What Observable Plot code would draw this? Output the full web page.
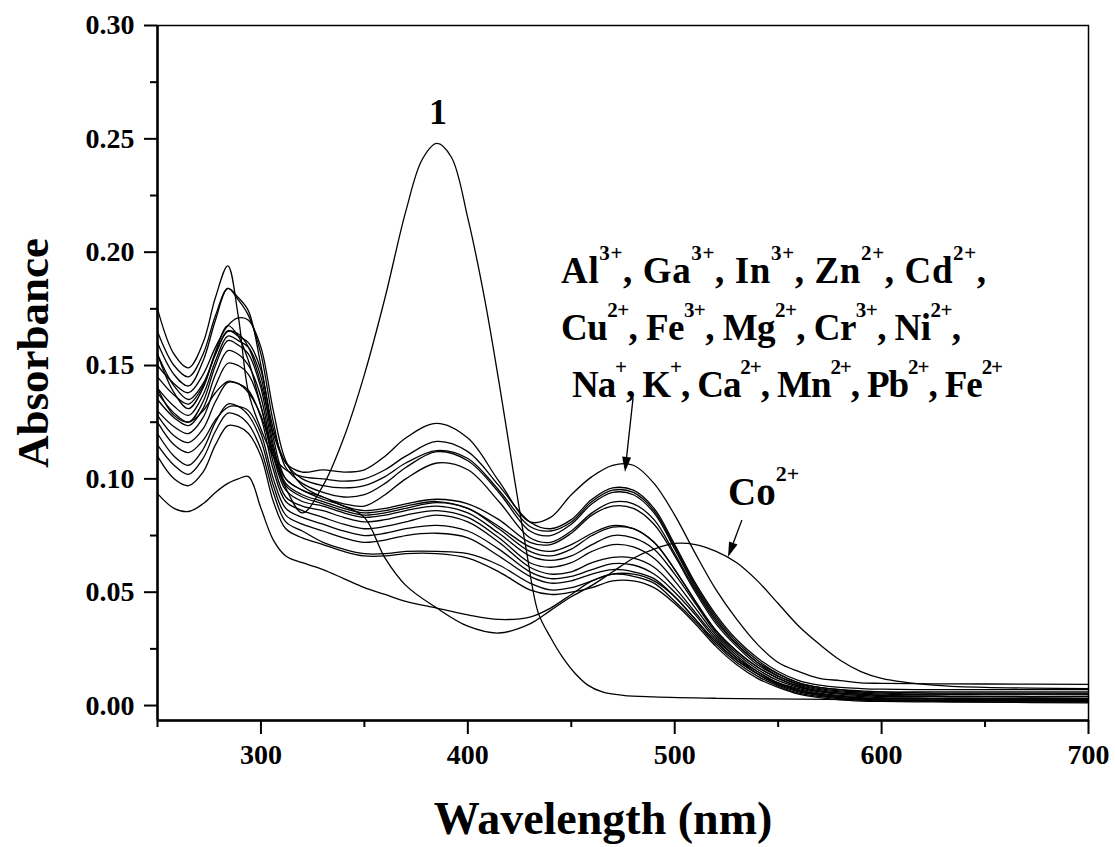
<!DOCTYPE html>
<html>
<head>
<meta charset="utf-8">
<script src="https://cdn.jsdelivr.net/npm/d3@7"></script>
<script src="https://cdn.jsdelivr.net/npm/@observablehq/plot@0.6"></script>
<style>
  body { margin: 0; background: #fff; }
  #chart svg { display: block; }
</style>
</head>
<body>
<div id="chart"></div>
<script>
// ---------- DATA ----------
const wavelengths = [250,258,265,272,278,284,289,294,300,306,312,320,330,340,350,360,370,385,400,415,430,440,450,460,470,480,490,500,510,520,530,540,550,560,570,580,590,600,625,650,700];

const curveA = [.155,.141,.135,.142,.155,.165,.164,.158,.142,.120,.107,.103,.104,.103,.104,.110,.118,.1245,.118,.099,.081,.083,.093,.101,.106,.106,.098,.084,.067,.051,.038,.027,.019,.015,.012,.011,.010,.0098,.0096,.0095,.0093];
const curveB = [.175,.155,.149,.160,.180,.194,.172,.138,.122,.110,.104,.101,.100,.099,.100,.104,.110,.1165,.112,.097,.081,.078,.082,.091,.096,.095,.087,.071,.054,.040,.029,.021,.015,.011,.009,.008,.0075,.0072,.007,.007,.007];
const curveC = [.165,.150,.145,.155,.172,.184,.180,.174,.150,.122,.107,.100,.097,.096,.097,.101,.107,.1125,.109,.095,.079,.077,.081,.090,.095,.094,.086,.070,.053,.039,.028,.020,.014,.010,.008,.007,.0065,.006,.006,.006,.006];
const curveD = [.160,.146,.141,.152,.170,.184,.179,.172,.155,.125,.105,.098,.094,.092,.093,.098,.105,.112,.108,.094,.077,.075,.080,.089,.094,.093,.085,.069,.052,.038,.027,.019,.014,.010,.008,.007,.006,.006,.0055,.0055,.0055];
const curveE = [.150,.142,.138,.146,.158,.1676,.171,.170,.158,.130,.108,.097,.092,.089,.088,.093,.100,.107,.104,.090,.074,.072,.077,.085,.0897,.089,.082,.067,.051,.037,.027,.019,.013,.0095,.0075,.0065,.006,.0055,.005,.005,.005];
const curveF = [.145,.137,.133,.141,.155,.1654,.163,.160,.148,.118,.100,.095,.092,.088,.086,.087,.089,.091,.089,.082,.072,.071,.076,.084,.088,.087,.080,.066,.050,.036,.026,.018,.013,.009,.007,.006,.0055,.005,.005,.005,.005];
const curveG = [.140,.132,.128,.137,.152,.163,.161,.158,.145,.115,.098,.093,.090,.087,.085,.086,.088,.090,.087,.079,.070,.068,.071,.076,.0794,.078,.072,.060,.046,.033,.024,.017,.012,.0085,.0065,.0055,.005,.0045,.0042,.004,.004];
const curveH = [.138,.129,.125,.134,.150,.161,.159,.155,.140,.113,.097,.092,.089,.086,.084,.085,.087,.0895,.087,.078,.068,.066,.069,.075,.0787,.078,.072,.060,.046,.033,.024,.017,.012,.0085,.0065,.0055,.005,.0045,.004,.004,.004];
const curveI = [.135,.127,.1235,.131,.146,.1566,.155,.150,.136,.110,.095,.090,.088,.085,.083,.084,.086,.088,.085,.076,.066,.064,.066,.071,.075,.074,.069,.058,.045,.032,.023,.016,.011,.008,.006,.005,.0045,.004,.004,.0038,.0038];
const curveJ = [.130,.123,.120,.127,.141,.151,.150,.146,.132,.107,.092,.088,.086,.083,.081,.082,.084,.086,.083,.074,.063,.061,.063,.068,.071,.070,.065,.055,.043,.031,.022,.015,.010,.0075,.0055,.0045,.004,.0035,.0033,.0032,.003];
const curveK = [.128,.119,.116,.122,.134,.1426,.142,.139,.127,.104,.090,.086,.083,.080,.078,.079,.081,.084,.081,.072,.061,.058,.059,.063,.0654,.065,.061,.052,.041,.030,.021,.015,.010,.007,.005,.004,.0035,.0032,.003,.003,.003];
const curveL = [.125,.115,.1116,.117,.126,.1316,.132,.130,.120,.100,.087,.083,.080,.077,.075,.076,.078,.0795,.077,.069,.059,.056,.057,.060,.0626,.062,.058,.050,.040,.029,.021,.014,.0095,.0065,.005,.004,.0033,.003,.0028,.0027,.0027];
const curveM = [.120,.110,.106,.113,.125,.133,.132,.128,.117,.097,.084,.080,.077,.074,.072,.073,.075,.076,.074,.066,.057,.054,.055,.058,.060,.059,.056,.048,.038,.028,.020,.014,.009,.006,.0045,.0035,.003,.0025,.0023,.0022,.0022];
const curveN = [.115,.106,.102,.109,.121,.129,.128,.124,.113,.094,.081,.077,.072,.069,.067,.067,.068,.068,.067,.062,.054,.051,.052,.055,.058,.057,.054,.046,.037,.027,.019,.013,.0085,.0055,.004,.003,.0025,.002,.002,.002,.002];
const curveO = [.110,.100,.097,.103,.115,.1235,.123,.120,.110,.090,.078,.074,.071,.068,.066,.066,.067,.067,.065,.059,.051,.049,.050,.052,.055,.055,.052,.045,.036,.026,.018,.012,.008,.005,.0035,.0025,.002,.0018,.0016,.0015,.0015];
const curveP = [.0935,.087,.0856,.089,.094,.098,.100,.101,.087,.073,.066,.063,.060,.056,.052,.049,.046,.043,.040,.038,.039,.043,.049,.055,.058,.058,.055,.048,.038,.028,.020,.014,.0095,.0065,.0045,.0035,.003,.0025,.002,.0015,.0012];
const curveCo = [.155,.138,.131,.140,.156,.1676,.163,.152,.132,.112,.100,.095,.091,.088,.083,.065,.053,.043,.035,.032,.036,.042,.048,.053,.059,.065,.069,.0715,.071,.068,.063,.055,.045,.035,.027,.020,.015,.012,.009,.008,.0075];

const ligandWavelengths = [250,258,265,272,278,284,289,294,300,306,312,320,330,340,350,360,370,378,385,392,400,408,415,422,428,434,440,446,452,458,465,475,490,520,560,600,650,700];
const ligandValues = [.140,.128,.125,.130,.138,.143,.142,.138,.128,.110,.096,.085,.097,.118,.146,.180,.218,.241,.248,.242,.215,.180,.143,.103,.070,.041,.030,.021,.014,.009,.006,.0045,.0038,.0032,.0028,.0025,.0022,.0018];

const metalCurves = {A: curveA, B: curveB, C: curveC, D: curveD, E: curveE, F: curveF, G: curveG, H: curveH,
  I: curveI, J: curveJ, K: curveK, L: curveL, M: curveM, N: curveN, O: curveO, P: curveP, Co: curveCo};

const xMajorTicks = [300, 400, 500, 600, 700];
const xMinorTicks = [250, 350, 450, 550, 650];
const yMajorTicks = [0, 0.05, 0.10, 0.15, 0.20, 0.25, 0.30];
const yMinorTicks = [0.025, 0.075, 0.125, 0.175, 0.225, 0.275];

const xTitle = "Wavelength (nm)";
const yTitle = "Absorbance";
const ligandLabel = "1";
const ionLabelRows = [
  [["Al","3+"],["Ga","3+"],["In","3+"],["Zn","2+"],["Cd","2+"]],
  [["Cu","2+"],["Fe","3+"],["Mg","2+"],["Cr","3+"],["Ni","2+"]],
  [["Na","+"],["K","+"],["Ca","2+"],["Mn","2+"],["Pb","2+"],["Fe","2+"]]
];
const ionRowEnd = [",", ",", ""];
const coLabel = [["Co","2+"]];

// ---------- LAYOUT (annotation anchors in data units: nm, absorbance) ----------
const ionRowAnchors = [[445.3, 0.1862], [445.3, 0.1610], [450.6, 0.1359]];
const ionRowWidths = [425, 400, 431];
const coAnchor = [526, 0.0882];
const ligandAnchor = [385.8, 0.2563];
const arrows = [
  {from: [480.1, 0.1354], to: [476.2, 0.1028]},
  {from: [532.7, 0.0816], to: [526.0, 0.0653]}
];

const FONT = '"Times New Roman", "Liberation Serif", serif';
const TICK_FONT_SIZE = "28px";
const yDomain = [-0.0066, 0.30];

// ---------- TABLE ----------
const rows = [];
for (const [name, vals] of Object.entries(metalCurves)) {
  vals.forEach((v, i) => rows.push({series: name, nm: wavelengths[i], A: v}));
}
ligandValues.forEach((v, i) => rows.push({series: "ligand", nm: ligandWavelengths[i], A: v}));

const chart = Plot.plot({
  width: 1115,
  height: 847,
  marginLeft: 157,
  marginRight: 27,
  marginTop: 25,
  marginBottom: 127,
  style: {fontFamily: FONT, fontWeight: "bold", fontSize: TICK_FONT_SIZE, color: "black", background: "white", overflow: "visible"},
  x: {domain: [250, 700]},
  y: {domain: yDomain},
  marks: [
    Plot.axisX({ticks: xMajorTicks, tickSize: 14, tickPadding: 10, tickFormat: d => String(d), label: null, strokeWidth: 2, fontWeight: "bold"}),
    Plot.axisX({ticks: xMinorTicks, tickSize: 7, fill: "none", label: null, strokeWidth: 2}),
    Plot.axisY({ticks: yMajorTicks, tickSize: 13, tickPadding: 10, tickFormat: d3.format(".2f"), label: null, strokeWidth: 2, fontWeight: "bold"}),
    Plot.axisY({ticks: yMinorTicks, tickSize: 7, fill: "none", label: null, strokeWidth: 2}),
    Plot.frame({strokeWidth: 1.5}),
    Plot.ruleX([250], {strokeWidth: 2.5}),
    Plot.ruleY([yDomain[0]], {strokeWidth: 2.5}),
    Plot.line(rows, {x: "nm", y: "A", z: "series", stroke: "black", strokeWidth: 1.3, curve: "catmull-rom"}),
    Plot.text([xTitle], {text: d => d, frameAnchor: "bottom", textAnchor: "middle", dx: -20, dy: 113, fontSize: 46, fontWeight: "bold"}),
    Plot.text([yTitle], {text: d => d, frameAnchor: "left", textAnchor: "middle", rotate: -90, dx: -124, dy: -20, fontSize: 45, fontWeight: "bold"})
  ]
});

document.getElementById("chart").appendChild(chart);

// make sure tick labels use the large bold serif size
d3.select(chart).selectAll('g[aria-label="x-axis tick label"], g[aria-label="y-axis tick label"]')
  .style("font-size", TICK_FONT_SIZE).attr("font-size", null)
  .selectAll("text").style("font-size", TICK_FONT_SIZE);

// ---------- ANNOTATIONS ----------
const sx = chart.scale("x"), sy = chart.scale("y");
const X = v => sx.apply(v), Y = v => sy.apply(v);
const svg = d3.select(chart);
const g = svg.append("g").attr("font-family", FONT).attr("font-weight", "bold").attr("fill", "black");

function superText(x, y, parts, end, size, supSize, raise, width) {
  const t = g.append("text").attr("x", x).attr("y", y).attr("font-size", size)
    .attr("text-anchor", "start").style("white-space", "pre");
  if (width) t.attr("textLength", width).attr("lengthAdjust", "spacing");
  parts.forEach(([base, sup], i) => {
    t.append("tspan").text(base);
    t.append("tspan").attr("dy", -raise).attr("font-size", supSize).text(sup);
    const sep = i < parts.length - 1 ? ", " : end;
    if (sep) t.append("tspan").attr("dy", raise).text(sep);
  });
}

ionLabelRows.forEach((row, i) => {
  superText(X(ionRowAnchors[i][0]), Y(ionRowAnchors[i][1]), row, ionRowEnd[i], 37, 21, 23, ionRowWidths[i]);
});
superText(X(coAnchor[0]), Y(coAnchor[1]), coLabel, "", 39, 22, 24, null);

g.append("text").attr("x", X(ligandAnchor[0])).attr("y", Y(ligandAnchor[1]))
  .attr("text-anchor", "middle").attr("font-size", 36).text(ligandLabel);

arrows.forEach(({from, to}) => {
  const x1 = X(from[0]), y1 = Y(from[1]), x2 = X(to[0]), y2 = Y(to[1]);
  const dx = x2 - x1, dy = y2 - y1, len = Math.hypot(dx, dy);
  const ux = dx / len, uy = dy / len, L = 15, w = 4.5;
  const bx = x2 - ux * L, by = y2 - uy * L;
  g.append("line").attr("x1", x1).attr("y1", y1).attr("x2", bx).attr("y2", by)
    .attr("stroke", "black").attr("stroke-width", 1.3);
  g.append("path")
    .attr("d", `M${x2},${y2}L${bx - uy * w},${by + ux * w}L${bx + uy * w},${by - ux * w}Z`)
    .attr("fill", "black");
});
</script>
</body>
</html>
